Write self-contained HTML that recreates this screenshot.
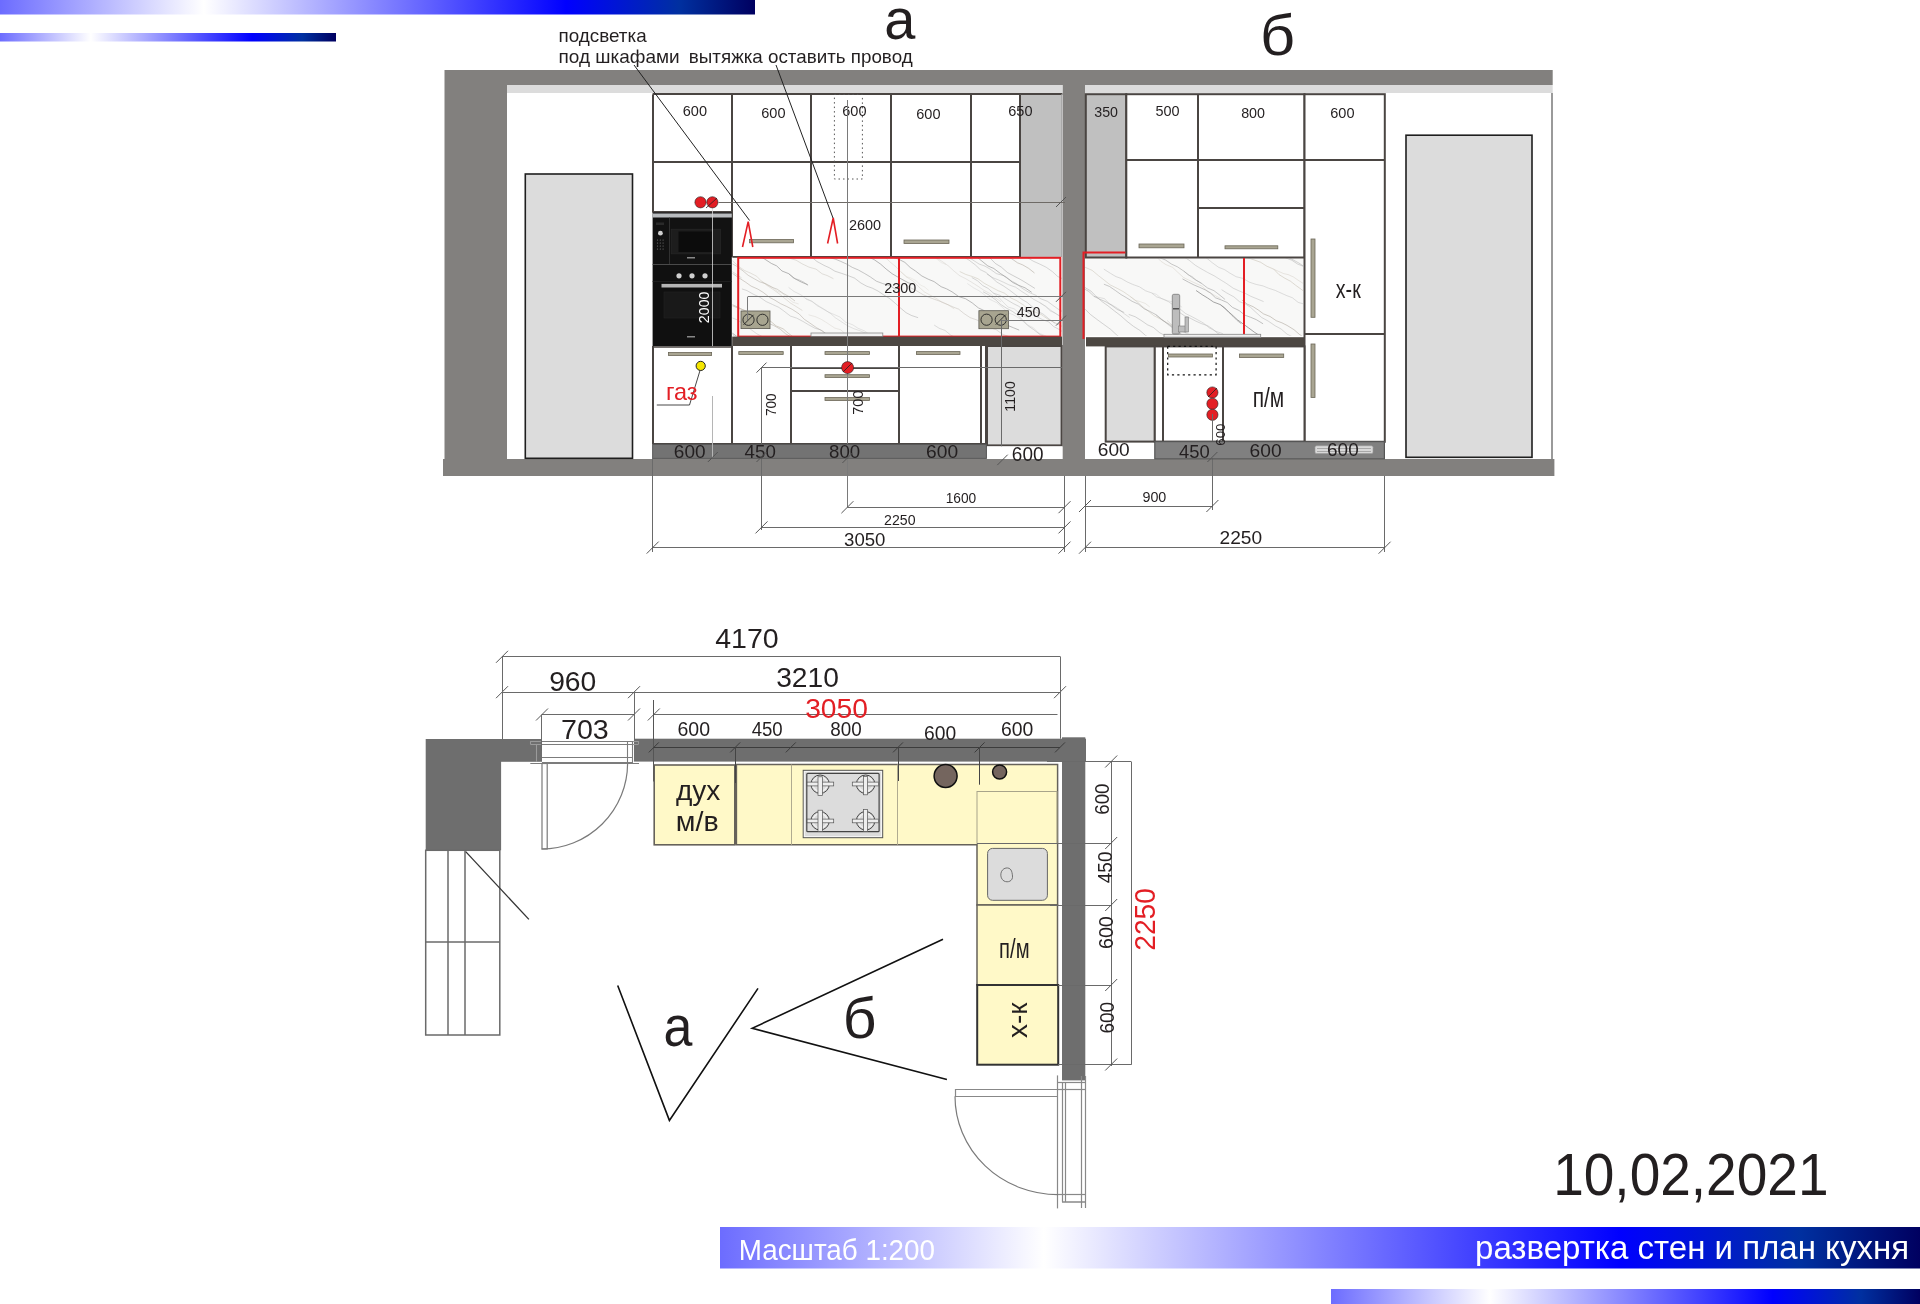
<!DOCTYPE html>
<html><head><meta charset="utf-8"><style>
html,body{margin:0;padding:0;background:#fff;width:1920px;height:1304px;overflow:hidden}
svg{position:absolute;left:0;top:0;font-family:"Liberation Sans",sans-serif;will-change:transform}
</style></head><body>
<svg width="1920" height="1304" viewBox="0 0 1920 1304">
<defs>
<linearGradient id="g" x1="0" y1="0" x2="1" y2="0">
<stop offset="0" stop-color="#6c6cff"/><stop offset="0.27" stop-color="#ffffff"/><stop offset="0.75" stop-color="#0000ff"/><stop offset="0.9" stop-color="#0030a0"/><stop offset="1" stop-color="#000060"/>
</linearGradient>
</defs>
<rect x="0.00" y="0.00" width="755.00" height="14.50" fill="url(#g)" stroke="none" stroke-width="1" />
<rect x="0.00" y="33.00" width="336.00" height="8.50" fill="url(#g)" stroke="none" stroke-width="1" />
<rect x="720.00" y="1227.00" width="1200.00" height="41.50" fill="url(#g)" stroke="none" stroke-width="1" />
<rect x="1331.00" y="1289.00" width="589.00" height="15.00" fill="url(#g)" stroke="none" stroke-width="1" />
<text x="738.78" y="1260.00" font-size="29" fill="#ffffff" textLength="196.23" lengthAdjust="spacingAndGlyphs">Масштаб 1:200</text>
<text x="1475.02" y="1259.00" font-size="34" fill="#ffffff" textLength="434.01" lengthAdjust="spacingAndGlyphs">развертка стен и план кухня</text>
<text x="1553.15" y="1194.80" font-size="59" fill="#231f20" textLength="275.39" lengthAdjust="spacingAndGlyphs">10,02,2021</text>
<rect x="444.50" y="70.00" width="62.50" height="406.00" fill="#82807e" stroke="none" stroke-width="1" />
<rect x="443.00" y="459.00" width="1111.40" height="17.00" fill="#82807e" stroke="none" stroke-width="1" />
<rect x="507.00" y="70.00" width="1045.70" height="15.00" fill="#82807e" stroke="none" stroke-width="1" />
<rect x="1062.50" y="70.00" width="22.50" height="406.00" fill="#82807e" stroke="none" stroke-width="1" />
<rect x="507.00" y="85.00" width="555.50" height="8.00" fill="#dcdcdc" stroke="none" stroke-width="1" />
<rect x="1085.00" y="85.00" width="467.70" height="8.00" fill="#dcdcdc" stroke="none" stroke-width="1" />
<line x1="1552.00" y1="93.00" x2="1552.00" y2="459.00" stroke="#9a9a9a" stroke-width="2" />
<rect x="525.30" y="174.00" width="107.20" height="284.30" fill="#dcdcdc" stroke="#1e1e1e" stroke-width="1.6" />
<rect x="1406.00" y="135.20" width="126.00" height="322.10" fill="#dcdcdc" stroke="#1e1e1e" stroke-width="1.6" />
<text x="884.16" y="39.00" font-size="58" fill="#231f20" textLength="31.12" lengthAdjust="spacingAndGlyphs">а</text>
<text x="1259.94" y="54.70" font-size="57" fill="#231f20" textLength="35.07" lengthAdjust="spacingAndGlyphs">б</text>
<text x="558.47" y="41.70" font-size="19" fill="#231f20" textLength="88.16" lengthAdjust="spacingAndGlyphs">подсветка</text>
<text x="558.46" y="62.50" font-size="19" fill="#231f20" textLength="121.24" lengthAdjust="spacingAndGlyphs">под шкафами</text>
<text x="688.87" y="62.50" font-size="19" fill="#231f20" textLength="223.78" lengthAdjust="spacingAndGlyphs">вытяжка оставить провод</text>
<rect x="652.60" y="94.40" width="367.80" height="162.60" fill="#ffffff" stroke="none" stroke-width="1" />
<line x1="653.00" y1="94.40" x2="653.00" y2="212.50" stroke="#4a4542" stroke-width="2" />
<line x1="732.00" y1="94.40" x2="732.00" y2="257.00" stroke="#4a4542" stroke-width="2" />
<line x1="811.00" y1="94.40" x2="811.00" y2="257.00" stroke="#4a4542" stroke-width="2" />
<line x1="891.00" y1="94.40" x2="891.00" y2="257.00" stroke="#4a4542" stroke-width="2" />
<line x1="971.00" y1="94.40" x2="971.00" y2="257.00" stroke="#4a4542" stroke-width="2" />
<line x1="1020.00" y1="94.40" x2="1020.00" y2="257.00" stroke="#4a4542" stroke-width="2" />
<line x1="652.60" y1="94.00" x2="1061.70" y2="94.00" stroke="#4a4542" stroke-width="2" />
<line x1="652.60" y1="162.00" x2="1020.40" y2="162.00" stroke="#4a4542" stroke-width="2" />
<line x1="652.60" y1="212.00" x2="732.40" y2="212.00" stroke="#4a4542" stroke-width="2" />
<line x1="732.40" y1="257.00" x2="1020.40" y2="257.00" stroke="#4a4542" stroke-width="2" />
<rect x="1020.40" y="94.40" width="41.90" height="162.60" fill="#c0c0c0" stroke="none" stroke-width="1" />
<line x1="1020.00" y1="94.40" x2="1020.00" y2="257.00" stroke="#4a4542" stroke-width="2" />
<line x1="1020.40" y1="94.00" x2="1062.30" y2="94.00" stroke="#4a4542" stroke-width="2" />
<line x1="1061.50" y1="94.40" x2="1061.50" y2="257.00" stroke="#a9a9a9" stroke-width="1" />
<rect x="834.40" y="94.40" width="28.00" height="84.60" fill="none" stroke="#555" stroke-width="1" stroke-dasharray="1.5,3"/>
<rect x="749.60" y="239.50" width="44.00" height="3.30" fill="#a9a592" stroke="#6b6757" stroke-width="0.8" />
<rect x="904.00" y="240.00" width="45.00" height="3.50" fill="#a9a592" stroke="#6b6757" stroke-width="0.8" />
<polyline points="742.50,247.00 748.20,221.60 752.80,247.00" fill="none" stroke="#e31e24" stroke-width="1.6" />
<polyline points="827.60,243.50 833.20,218.00 837.60,243.50" fill="none" stroke="#e31e24" stroke-width="1.6" />
<text x="682.77" y="116.00" font-size="14.5" fill="#231f20" textLength="24.25" lengthAdjust="spacingAndGlyphs">600</text>
<text x="761.27" y="118.00" font-size="14.5" fill="#231f20" textLength="24.25" lengthAdjust="spacingAndGlyphs">600</text>
<text x="842.27" y="116.00" font-size="14.5" fill="#231f20" textLength="24.25" lengthAdjust="spacingAndGlyphs">600</text>
<text x="916.27" y="119.00" font-size="14.5" fill="#231f20" textLength="24.25" lengthAdjust="spacingAndGlyphs">600</text>
<text x="1008.27" y="116.00" font-size="14.5" fill="#231f20" textLength="24.25" lengthAdjust="spacingAndGlyphs">650</text>
<text x="848.98" y="229.60" font-size="14.5" fill="#231f20" textLength="32.14" lengthAdjust="spacingAndGlyphs">2600</text>
<rect x="652.60" y="212.50" width="79.20" height="51.50" fill="#121212" stroke="none" stroke-width="1" />
<rect x="652.60" y="213.50" width="79.20" height="4.00" fill="#b9bcbf" stroke="none" stroke-width="1" />
<line x1="669.50" y1="217.50" x2="669.50" y2="264.00" stroke="#3a3a3a" stroke-width="0.8" />
<rect x="671.30" y="229.30" width="49.10" height="24.50" fill="#1d1d1d" stroke="#262626" stroke-width="0.8" />
<rect x="678.50" y="231.50" width="34.50" height="20.50" fill="#0c0c0c" stroke="none" stroke-width="1" />
<circle cx="660.40" cy="233.20" r="2.40" fill="#d0d0d0" stroke="none" stroke-width="1"/>
<rect x="656.00" y="222.50" width="8.00" height="2.50" fill="#2a2a2a" stroke="none" stroke-width="1" />
<circle cx="657.50" cy="240.00" r="0.60" fill="#777" stroke="none" stroke-width="1"/>
<circle cx="660.30" cy="240.00" r="0.60" fill="#777" stroke="none" stroke-width="1"/>
<circle cx="663.10" cy="240.00" r="0.60" fill="#777" stroke="none" stroke-width="1"/>
<circle cx="657.50" cy="243.00" r="0.60" fill="#777" stroke="none" stroke-width="1"/>
<circle cx="660.30" cy="243.00" r="0.60" fill="#777" stroke="none" stroke-width="1"/>
<circle cx="663.10" cy="243.00" r="0.60" fill="#777" stroke="none" stroke-width="1"/>
<circle cx="657.50" cy="246.00" r="0.60" fill="#777" stroke="none" stroke-width="1"/>
<circle cx="660.30" cy="246.00" r="0.60" fill="#777" stroke="none" stroke-width="1"/>
<circle cx="663.10" cy="246.00" r="0.60" fill="#777" stroke="none" stroke-width="1"/>
<circle cx="657.50" cy="249.00" r="0.60" fill="#777" stroke="none" stroke-width="1"/>
<circle cx="660.30" cy="249.00" r="0.60" fill="#777" stroke="none" stroke-width="1"/>
<circle cx="663.10" cy="249.00" r="0.60" fill="#777" stroke="none" stroke-width="1"/>
<rect x="652.60" y="264.00" width="79.20" height="82.40" fill="#101010" stroke="none" stroke-width="1" />
<line x1="652.60" y1="264.50" x2="731.80" y2="264.50" stroke="#4a4a4a" stroke-width="1.2" />
<line x1="652.60" y1="281.50" x2="731.80" y2="281.50" stroke="#222" stroke-width="0.8" />
<circle cx="679.00" cy="275.80" r="2.60" fill="#cfcfcf" stroke="none" stroke-width="1"/>
<circle cx="692.00" cy="275.80" r="2.60" fill="#cfcfcf" stroke="none" stroke-width="1"/>
<circle cx="705.00" cy="275.80" r="2.60" fill="#cfcfcf" stroke="none" stroke-width="1"/>
<rect x="661.50" y="283.90" width="60.50" height="3.60" fill="#b5b5b5" stroke="none" stroke-width="1" />
<rect x="664.00" y="292.00" width="56.00" height="26.00" fill="#191919" stroke="#222" stroke-width="0.6" />
<rect x="687.00" y="336.00" width="8.00" height="1.50" fill="#888" stroke="none" stroke-width="1" />
<rect x="687.00" y="257.00" width="8.00" height="1.50" fill="#888" stroke="none" stroke-width="1" />
<line x1="712.50" y1="205.00" x2="712.50" y2="346.00" stroke="#d8d8d8" stroke-width="0.8" />
<line x1="709.00" y1="461.00" x2="717.00" y2="453.00" stroke="#555" stroke-width="1" />
<text x="0" y="0" transform="translate(709.20,323.21) rotate(-90)" font-size="15.5" fill="#ffffff" textLength="31.73" lengthAdjust="spacingAndGlyphs">2000</text>
<circle cx="700.50" cy="202.30" r="5.60" fill="#e31e24" stroke="#222" stroke-width="0.6"/>
<circle cx="712.40" cy="202.30" r="5.60" fill="#e31e24" stroke="#222" stroke-width="0.6"/>
<line x1="706.00" y1="208.00" x2="717.00" y2="198.00" stroke="#222" stroke-width="0.8" />
<line x1="718.50" y1="202.50" x2="1065.00" y2="202.50" stroke="#6e6a66" stroke-width="1" />
<line x1="1056.00" y1="207.00" x2="1066.00" y2="197.00" stroke="#555" stroke-width="1" />
<line x1="634.00" y1="65.00" x2="749.60" y2="220.50" stroke="#222" stroke-width="1" />
<line x1="776.00" y1="65.00" x2="833.00" y2="218.00" stroke="#222" stroke-width="1" />
<rect x="732.40" y="257.80" width="329.60" height="78.80" fill="#f8f8f7" stroke="none" stroke-width="1" />
<clipPath id="cpa"><rect x="732.4" y="257.8" width="329.6" height="78.8"/></clipPath><g clip-path="url(#cpa)">
<polyline points="748.0,217.3 754.1,220.0 759.2,223.1 764.3,226.0 769.4,227.7 775.3,231.9 780.5,234.1 786.8,238.6 792.9,241.3 799.9,243.0 806.6,245.4 811.9,247.3 817.5,251.4 822.9,254.7 829.1,257.4 835.2,259.1 840.3,261.2 846.7,264.1 852.3,267.4 858.2,269.9 864.8,273.6 870.3,276.9 876.4,281.2 882.8,283.6 889.8,285.5 895.6,289.4" fill="none" stroke="#a8a8a8" stroke-width="0.87" opacity="0.74"/>
<polyline points="644.6,269.4 650.3,272.9 656.3,277.9 661.4,280.5 667.0,285.2 672.1,289.9 677.7,294.1 684.1,297.9 690.5,303.1 696.2,308.5 701.9,312.9 707.9,316.0 713.5,320.7 719.3,326.0 725.3,328.9 731.1,332.2 736.3,336.0 742.4,340.6 749.4,345.2 755.2,348.3 760.3,351.2 766.6,353.6 773.3,356.5 778.9,359.4 784.9,363.7 790.6,366.5 797.3,371.9 803.6,376.7 809.5,381.8" fill="none" stroke="#8e8e8e" stroke-width="0.76" opacity="0.80"/>
<polyline points="725.3,328.9 730.2,331.5 734.6,336.5 739.5,337.9" fill="none" stroke="#8e8e8e" stroke-width="0.61" opacity="0.64"/>
<polyline points="864.3,211.1 871.2,215.1 876.3,217.8 882.1,221.9 889.0,225.9 895.0,228.3 900.9,233.5 906.9,236.5 912.2,240.9 918.7,244.5 925.0,248.2 930.5,253.3 936.2,257.6 943.0,262.0 948.6,266.1 953.8,270.9 959.8,275.8 965.5,278.6 971.6,282.2 977.9,286.2 984.5,290.7 989.9,293.5 995.7,298.1 1001.1,301.8" fill="none" stroke="#b0aaa0" stroke-width="0.46" opacity="0.56"/>
<polyline points="925.0,248.2 930.4,253.0 935.3,257.8 941.3,262.6 946.0,264.5" fill="none" stroke="#b0aaa0" stroke-width="0.37" opacity="0.45"/>
<polyline points="707.3,223.2 714.1,228.0 720.0,232.3 726.6,234.7 733.0,239.7 739.5,244.3 745.5,247.0 752.1,250.2 758.7,255.5 764.4,258.9 771.3,263.4 776.7,265.9 782.0,271.0 788.6,273.6 795.2,278.9 801.6,282.2 807.7,284.7" fill="none" stroke="#9a9a9a" stroke-width="0.81" opacity="0.88"/>
<polyline points="788.6,273.6 793.5,278.1 799.1,279.9 803.6,282.1 808.1,285.4" fill="none" stroke="#9a9a9a" stroke-width="0.65" opacity="0.70"/>
<polyline points="720.9,251.6 726.6,255.6 732.8,261.0 738.6,266.4 744.7,270.6 750.7,273.2 756.6,276.2 761.6,281.3 766.9,285.3 773.4,289.6 779.0,293.7 785.1,298.7 790.4,303.0 795.9,306.4 802.4,310.5" fill="none" stroke="#c6bfb2" stroke-width="0.46" opacity="0.95"/>
<polyline points="761.6,281.3 767.5,284.7 771.9,286.8 776.9,291.0 782.0,293.0 787.0,297.5 792.9,302.2 798.7,304.0" fill="none" stroke="#c6bfb2" stroke-width="0.37" opacity="0.76"/>
<polyline points="800.0,251.3 806.3,254.5 811.7,257.2 817.0,261.5 823.9,265.3 829.6,267.9 834.9,271.2 841.4,273.3 848.1,275.6 854.5,278.1 860.9,283.0 866.7,286.2 872.4,288.2 878.1,291.1 884.0,295.1 889.8,298.6 895.4,303.4 900.6,308.1 906.1,312.7 911.3,315.4 918.1,317.7" fill="none" stroke="#8e8e8e" stroke-width="0.51" opacity="0.74"/>
<polyline points="956.0,231.1 962.1,235.8 967.3,238.5 973.7,242.4 978.8,247.9 985.1,253.0 990.2,258.2 995.4,263.5 1001.3,267.1 1007.4,272.5 1012.9,275.5 1019.0,278.7 1024.2,281.7 1029.3,284.9 1034.9,288.4" fill="none" stroke="#8e8e8e" stroke-width="0.54" opacity="0.75"/>
<polyline points="725.6,300.9 730.7,303.9 737.6,307.0 743.1,309.9 749.4,313.4 755.7,316.6 762.5,321.2 768.1,323.3 773.6,325.4 780.3,329.2 785.6,333.8 792.6,337.9 797.6,341.3 804.4,344.2 809.5,347.7 815.3,350.8 822.2,354.2 828.6,355.7 834.0,358.0 839.0,360.7 844.6,365.3 850.3,366.8 857.0,368.9 862.4,371.5 867.6,373.8 873.9,376.0 880.4,377.8 887.1,379.7 893.2,382.4 898.8,385.8 904.0,390.4 910.7,392.3 917.5,396.2 923.7,400.1" fill="none" stroke="#b0aaa0" stroke-width="0.89" opacity="0.62"/>
<polyline points="882.2,203.6 888.4,208.4 895.0,211.3 901.1,215.4 907.7,220.5 914.4,224.8 921.2,229.5 927.6,232.7 932.6,235.6 938.4,238.4 945.0,242.6 951.3,247.1 957.6,251.1 962.7,256.2 969.1,260.2 975.2,264.8 980.4,269.7 985.9,272.4 991.4,277.2 996.8,282.0 1003.7,286.1 1009.5,290.1 1015.9,295.0 1022.1,299.5 1027.3,302.5 1032.8,307.3 1038.4,311.6 1043.4,314.3 1048.9,318.9 1055.3,323.5" fill="none" stroke="#b5b5b5" stroke-width="0.77" opacity="0.68"/>
<polyline points="934.2,325.1 939.4,328.4 945.0,330.4 951.0,335.4 958.0,338.4 964.8,343.2 969.9,345.2 976.4,347.8 982.2,351.5 988.4,354.2 993.6,357.2 999.6,361.7 1005.4,364.0 1012.3,368.0 1018.1,372.1 1024.0,375.1 1029.2,377.9 1034.9,380.7 1040.7,385.5 1046.1,387.3 1052.5,389.9 1057.7,392.9 1064.4,395.0 1071.3,399.2" fill="none" stroke="#8e8e8e" stroke-width="0.47" opacity="0.60"/>
<polyline points="732.0,317.8 738.0,320.1 743.7,324.9 750.5,329.2 756.8,333.8 763.6,337.3 770.1,339.2 776.5,342.3 783.1,346.1 788.6,348.0 795.5,350.1 801.4,352.9 807.0,357.0 814.0,359.6 820.3,362.3 826.4,365.2 831.7,367.5 837.1,372.1" fill="none" stroke="#c2c2c2" stroke-width="0.70" opacity="0.75"/>
<polyline points="820.3,362.3 825.1,365.4 829.6,367.1 834.7,369.4 839.5,373.7 843.9,374.7 849.6,377.3" fill="none" stroke="#c2c2c2" stroke-width="0.56" opacity="0.60"/>
<polyline points="925.3,224.9 931.2,229.0 937.0,233.5 943.0,238.4 949.7,241.0 956.5,244.5 962.8,248.2 968.4,253.1 975.4,255.8 981.2,260.5 987.8,265.9 993.8,268.5 1000.7,273.7 1006.7,277.5 1012.6,282.4 1018.1,285.1 1025.0,287.8 1031.7,292.3" fill="none" stroke="#8e8e8e" stroke-width="0.79" opacity="0.76"/>
<polyline points="628.6,298.1 634.9,301.6 640.2,304.9 646.4,309.7 651.7,312.4 657.7,316.8 663.5,320.0 669.7,322.5 675.3,326.5 682.2,331.1 689.0,335.1 694.4,338.4 701.4,343.1 707.0,345.7 713.0,350.4 718.8,353.7 725.1,359.2" fill="none" stroke="#a8a8a8" stroke-width="0.67" opacity="0.86"/>
<polyline points="764.2,248.7 770.9,250.7 776.9,253.1 783.4,255.5 789.3,258.1 796.1,260.2 802.3,263.9 809.1,267.2 816.0,269.1 822.1,273.8 827.3,275.6 833.4,278.7" fill="none" stroke="#b0aaa0" stroke-width="0.48" opacity="0.73"/>
<polyline points="983.1,291.8 988.8,294.9 995.6,299.8 1000.7,304.5 1006.5,308.2 1012.1,311.2 1017.1,314.6 1022.8,320.2 1028.1,325.8 1033.5,329.5 1040.1,334.6 1046.0,337.3 1051.9,341.0 1058.8,344.1 1064.5,349.5 1069.6,353.4 1076.2,358.3 1081.3,361.0 1086.4,366.4 1091.9,371.3 1098.7,374.9 1104.3,380.5 1110.5,383.9 1116.9,387.4 1122.5,389.9 1129.0,395.4 1135.3,400.9 1140.3,404.2 1146.3,409.8 1153.2,413.5 1158.7,417.4 1164.7,422.9 1170.0,428.0 1176.5,433.1" fill="none" stroke="#8e8e8e" stroke-width="0.52" opacity="0.66"/>
<polyline points="805.5,298.3 811.3,300.9 817.1,304.9 823.1,308.7 828.4,312.1 833.6,314.3 839.9,317.0 845.7,322.2 852.7,324.8 857.9,328.2 864.7,331.0 870.8,335.5 877.3,340.0 882.9,342.9 888.4,345.7 893.9,349.2 899.3,351.9 904.9,356.9 910.3,359.1 915.8,361.9 921.8,366.0 927.0,369.5 932.1,371.5 938.9,374.3 944.8,377.5" fill="none" stroke="#b5b5b5" stroke-width="0.55" opacity="0.57"/>
<polyline points="959.7,222.9 965.1,226.8 971.6,230.9 976.6,235.0 983.1,238.1 988.1,241.2 993.2,246.4 998.3,250.8 1005.1,255.4 1011.8,258.8 1017.5,262.8 1022.7,264.9 1028.7,268.4 1034.5,273.0" fill="none" stroke="#b0aaa0" stroke-width="0.70" opacity="0.84"/>
<polyline points="983.1,238.1 988.5,240.8 993.0,243.0 998.9,245.2 1004.1,247.7 1008.9,252.1 1014.9,254.6" fill="none" stroke="#b0aaa0" stroke-width="0.56" opacity="0.67"/>
<polyline points="694.8,291.2 701.6,294.0 708.3,296.7 715.0,299.5 720.4,301.0 726.5,304.5 733.3,306.1 739.5,308.7 745.5,310.6 751.1,313.7 758.0,315.4 763.9,319.4 770.9,321.5 776.1,325.9 783.1,328.8 788.2,333.2 794.0,337.5" fill="none" stroke="#c6bfb2" stroke-width="0.76" opacity="0.95"/>
<polyline points="971.8,277.5 977.7,280.9 982.8,285.6 988.1,288.4 993.4,293.1 1000.0,295.4 1006.8,299.7 1013.2,303.5 1018.8,306.3 1024.7,310.7 1031.3,314.4 1036.9,316.8 1042.7,319.7 1048.7,321.9 1053.7,326.6 1059.6,329.7 1065.8,334.0 1072.5,338.2 1078.3,340.1 1084.0,342.9 1090.6,346.1 1097.0,347.9 1102.2,352.5 1107.8,356.4 1113.0,360.4" fill="none" stroke="#c2c2c2" stroke-width="0.74" opacity="0.90"/>
<polyline points="993.4,293.1 998.9,297.4 1003.3,302.3 1008.2,307.1 1014.1,308.8 1019.7,313.5 1023.8,315.9 1029.3,317.5" fill="none" stroke="#c2c2c2" stroke-width="0.59" opacity="0.72"/>
<polyline points="988.5,233.2 994.6,237.7 1000.0,240.1 1006.0,242.7 1011.1,244.9 1016.4,249.4 1022.7,253.9 1028.1,258.0 1033.3,261.2 1039.6,264.0 1046.3,267.3 1052.5,271.7 1057.7,276.5 1063.9,279.3 1070.5,281.7 1077.5,285.1 1083.2,289.1 1089.1,291.3 1095.6,293.0 1102.3,295.4 1108.5,300.1 1114.7,303.8 1120.3,305.4 1125.4,307.4 1131.6,310.4 1137.7,314.8 1142.9,317.1 1149.2,318.8 1154.2,321.5 1159.4,324.2" fill="none" stroke="#a8a8a8" stroke-width="0.64" opacity="0.69"/>
<polyline points="1063.9,279.3 1069.6,280.9 1073.6,285.1 1079.0,287.9 1083.2,289.5 1088.5,291.6 1094.1,296.5 1098.2,300.7" fill="none" stroke="#a8a8a8" stroke-width="0.51" opacity="0.55"/>
<polyline points="986.9,274.1 993.0,277.8 998.3,279.9 1003.4,282.2 1008.8,284.8 1015.6,287.2 1021.8,291.5 1027.2,294.9 1033.3,299.1 1039.6,302.5 1045.8,306.3 1050.9,310.4 1057.9,314.9 1063.9,318.7 1069.6,322.2 1076.4,324.6 1082.7,327.3 1089.7,330.2 1096.0,332.8 1102.8,337.8 1109.7,340.8 1114.8,345.0 1121.2,349.3 1128.0,354.5 1133.6,359.6" fill="none" stroke="#a8a8a8" stroke-width="0.49" opacity="0.78"/>
<polyline points="1039.6,302.5 1045.4,306.5 1050.1,311.0 1054.8,313.0 1060.6,316.5" fill="none" stroke="#a8a8a8" stroke-width="0.39" opacity="0.62"/>
<polyline points="903.0,283.2 909.7,287.3 916.4,290.7 922.8,294.5 928.5,297.1 934.7,299.4 941.5,301.8 946.6,304.1 953.4,307.1 958.7,309.2 963.8,313.4 970.1,317.6 976.5,319.8 982.7,322.9 989.4,327.5 996.1,329.6 1002.9,334.5 1009.8,336.8 1015.2,339.2 1020.2,343.8 1026.9,347.8 1033.5,351.8 1039.1,354.1 1044.3,358.5 1049.7,361.5 1055.5,363.5 1061.1,366.4 1067.5,369.5 1073.1,374.6 1079.1,379.2 1085.4,381.3 1091.2,384.7 1097.7,387.7" fill="none" stroke="#b0aaa0" stroke-width="0.47" opacity="0.80"/>
<polyline points="959.7,271.5 965.7,274.4 972.2,276.5 977.9,278.7 984.3,283.3 991.3,287.1 998.2,290.7 1004.3,293.1 1011.0,298.0 1016.4,300.5 1023.3,304.9 1029.3,310.0 1035.4,312.2 1041.1,314.4 1047.9,319.2 1054.4,322.5 1060.7,325.6 1066.3,328.9" fill="none" stroke="#c6bfb2" stroke-width="0.68" opacity="0.72"/>
<polyline points="710.1,257.0 716.6,261.4 722.3,264.7 727.6,269.7 733.9,274.4 739.3,278.1 745.8,282.3 751.1,286.1 757.8,289.1 763.2,292.4 769.6,297.4 774.9,300.2 780.4,303.6 786.5,306.4 792.1,309.3 799.1,313.9 804.3,319.3 809.5,322.8 816.5,327.7 822.9,331.4 828.3,335.7 833.5,338.7 839.3,341.1 845.1,346.0" fill="none" stroke="#b0aaa0" stroke-width="0.55" opacity="0.99"/>
<polyline points="722.3,264.7 726.8,268.7 730.8,270.6 736.5,274.4 741.7,278.0" fill="none" stroke="#b0aaa0" stroke-width="0.44" opacity="0.79"/>
<polyline points="967.3,283.5 973.6,287.8 979.1,290.8 984.3,294.7 989.8,299.4 996.6,302.6 1002.4,307.3 1007.7,312.5 1013.7,315.0 1020.4,319.1 1026.7,324.4 1033.5,327.9 1038.5,333.0 1045.4,335.8 1050.9,338.9 1057.3,344.4 1062.7,348.0 1069.4,351.9 1074.8,355.9 1079.8,360.9 1085.6,364.4 1092.1,368.4 1099.0,371.4 1105.1,376.8 1111.5,381.3 1117.8,384.5" fill="none" stroke="#c2c2c2" stroke-width="0.63" opacity="0.56"/>
<polyline points="788.6,287.4 794.1,291.5 801.0,294.9 806.4,299.2 812.2,301.6 817.4,305.8 824.1,309.5 830.0,313.0 835.4,317.8 841.2,321.6 847.8,325.9 853.7,328.6 859.8,330.7 866.5,333.5 873.2,336.1 878.9,338.7 884.8,341.0 889.8,345.0 895.4,347.5 901.0,350.7" fill="none" stroke="#c2c2c2" stroke-width="0.73" opacity="0.59"/>
<polyline points="676.2,236.8 682.3,239.3 689.2,242.5 694.9,245.9 701.2,248.1 706.3,250.5 712.5,253.9 719.2,256.0 725.1,260.0 730.6,262.8 736.6,266.2 743.0,270.9 748.2,275.3 754.3,278.8 759.9,281.9 765.3,283.6 772.0,287.3 777.2,289.2 783.1,293.3 789.0,296.6 795.0,301.0" fill="none" stroke="#b0aaa0" stroke-width="0.67" opacity="0.77"/>
<polyline points="974.4,198.8 980.5,202.9 987.2,206.1 993.1,211.1 998.2,215.1 1004.5,217.2 1010.7,221.3 1017.6,224.4 1024.5,227.9 1030.5,232.8 1035.6,237.0 1041.8,240.1 1048.5,243.2 1054.5,246.9 1061.0,249.5 1066.9,252.8 1073.0,257.4 1078.6,262.0 1084.4,265.6 1089.9,269.2 1096.9,273.2 1103.5,276.3 1109.1,279.2 1115.3,283.2 1121.8,285.3 1128.3,290.1 1134.4,292.2 1140.0,294.2 1145.4,299.1 1151.6,303.1" fill="none" stroke="#8e8e8e" stroke-width="0.68" opacity="0.79"/>
<polyline points="1010.7,221.3 1016.4,222.7 1020.5,226.2 1025.8,227.9 1031.1,232.4 1035.9,233.8 1041.8,234.8 1047.6,236.4" fill="none" stroke="#8e8e8e" stroke-width="0.54" opacity="0.64"/>
<polyline points="741.9,288.9 747.0,290.6 753.1,294.1 760.0,297.3 766.0,301.5 772.5,304.5 778.9,307.4 784.1,311.2 790.3,316.0 796.6,318.1 803.1,321.5 808.3,324.6 815.1,328.3 820.9,329.9 827.3,334.7 834.0,337.0 839.2,340.2 844.8,343.6 850.7,347.6 857.5,350.4 864.0,354.2 869.3,358.3 874.9,361.7 880.9,365.5 887.7,370.0 892.8,371.7 897.9,376.2 904.3,379.8 910.1,382.4 916.3,387.1 922.9,390.7" fill="none" stroke="#b5b5b5" stroke-width="0.62" opacity="0.81"/>
<polyline points="896.3,216.5 902.6,220.4 908.4,223.5 915.0,228.3 921.6,232.0 927.1,234.0 934.1,238.1 940.7,241.0 947.0,246.0 953.6,249.7 959.2,252.9 966.0,256.0 972.4,259.7 979.2,264.1 984.7,266.0 990.3,269.2 996.4,273.6 1003.2,275.6 1009.9,280.0 1016.6,283.7 1022.2,288.3 1028.8,292.3 1035.6,295.2 1040.8,298.8 1047.4,301.3 1053.9,306.1 1059.3,309.9 1065.7,313.2 1071.1,315.9" fill="none" stroke="#8e8e8e" stroke-width="0.45" opacity="0.72"/>
<polyline points="837.2,243.5 843.2,246.2 849.9,249.1 855.9,251.6 861.3,253.8 867.9,256.6 874.1,259.6 880.7,264.2 886.1,269.0 892.1,273.7 897.9,277.1 903.0,279.9 908.1,282.7 914.3,284.9" fill="none" stroke="#a8a8a8" stroke-width="0.90" opacity="0.94"/>
<polyline points="850.2,231.5 857.1,235.9 863.7,240.8 869.3,242.9 874.7,245.4 879.8,247.4 885.9,252.1 891.9,257.1 898.7,259.2 904.9,262.4 910.1,267.4 915.6,271.1 921.9,276.0 928.2,279.2 934.1,281.6 941.1,286.7 946.5,288.8 952.0,291.8 958.8,296.6 965.5,298.7 972.1,302.8 978.4,307.9 983.5,310.3 990.0,315.2 996.4,318.1 1002.5,322.4 1007.7,325.4 1013.3,327.7 1019.2,330.1" fill="none" stroke="#a8a8a8" stroke-width="0.81" opacity="0.96"/>
<polyline points="808.5,314.8 815.2,316.6 821.4,319.4 827.9,323.5 834.8,328.1 840.6,329.7 845.8,334.4 851.4,336.8 856.6,339.5 862.3,343.5 867.7,346.5 874.4,349.5 879.7,352.4 885.2,354.1 891.4,356.6 898.0,359.0 903.2,362.1 909.2,364.2 915.2,367.8 921.8,372.3 927.9,376.6 933.1,380.6 940.1,383.6 945.6,385.9 951.1,388.7 956.9,390.9 963.6,395.6 968.8,399.2 974.7,402.4" fill="none" stroke="#c6bfb2" stroke-width="0.51" opacity="0.55"/>
<polyline points="833.2,221.8 838.6,226.1 843.9,229.2 850.4,234.0 855.8,236.7 861.0,241.1 867.0,244.5 872.4,249.0 878.8,254.1 885.0,257.2 890.1,262.0 895.9,266.8 901.0,271.9 906.7,277.1 913.4,281.2 918.5,286.6 924.4,291.9 929.9,295.0 936.6,298.6 941.9,302.3 948.1,304.8 954.2,308.8" fill="none" stroke="#c6bfb2" stroke-width="0.48" opacity="0.71"/>
<polyline points="901.0,271.9 906.2,276.5 910.8,278.0 916.2,280.7 920.3,285.0 924.5,286.9 928.7,290.4" fill="none" stroke="#c6bfb2" stroke-width="0.39" opacity="0.57"/>
</g>
<rect x="1085.00" y="258.40" width="218.50" height="77.30" fill="#f8f8f7" stroke="none" stroke-width="1" />
<clipPath id="cpb"><rect x="1085" y="258.4" width="218" height="77.3"/></clipPath><g clip-path="url(#cpb)">
<polyline points="1044.8,285.7 1050.1,288.9 1055.4,292.0 1061.9,294.8 1068.0,297.9 1073.6,301.7 1080.2,306.1 1085.3,309.4 1090.6,314.6 1097.2,319.6 1103.8,324.4 1110.7,329.4 1116.2,334.5 1122.2,339.4 1128.3,343.2 1134.1,346.9 1139.7,349.7 1146.3,354.7 1153.3,359.3 1159.4,364.2 1164.7,368.7 1170.6,371.7 1176.0,375.8 1181.5,379.7 1187.7,383.4 1193.0,387.4 1198.4,390.6" fill="none" stroke="#a8a8a8" stroke-width="0.77" opacity="0.61"/>
<polyline points="1158.8,257.3 1165.5,260.0 1171.5,264.1 1177.4,266.8 1183.8,271.1 1189.3,275.4 1195.0,279.6 1201.3,283.2 1207.6,288.0 1214.0,290.7 1220.0,295.3 1225.1,299.5" fill="none" stroke="#9a9a9a" stroke-width="0.61" opacity="0.88"/>
<polyline points="1183.8,271.1 1188.2,274.8 1192.4,276.7 1196.5,280.3 1201.7,283.5" fill="none" stroke="#9a9a9a" stroke-width="0.49" opacity="0.70"/>
<polyline points="977.0,254.3 982.0,259.0 987.2,261.4 992.7,264.9 997.9,267.9 1003.6,272.1 1008.6,274.6 1014.6,279.3 1020.7,282.3 1027.0,284.8 1032.1,287.9 1038.9,291.7 1044.4,295.4 1051.1,297.8 1057.3,300.4 1062.8,302.9 1068.2,305.5 1073.3,308.3 1078.4,312.2 1084.6,313.7" fill="none" stroke="#8e8e8e" stroke-width="0.59" opacity="0.75"/>
<polyline points="1085.0,205.8 1090.3,208.6 1096.1,211.6 1101.7,216.1 1107.3,219.7 1112.5,223.8 1118.6,228.2 1124.5,231.9 1130.1,237.5 1135.2,240.6 1142.0,245.5 1148.8,250.9 1155.6,255.7 1160.8,261.2 1165.9,264.6 1172.5,267.3 1178.0,272.5 1183.5,277.5 1190.0,280.7 1195.8,283.4 1201.9,286.1 1208.1,291.7 1214.7,295.4 1220.4,298.4" fill="none" stroke="#c6bfb2" stroke-width="0.58" opacity="0.59"/>
<polyline points="1096.1,211.6 1101.5,213.0 1106.9,217.5 1112.9,221.7 1117.8,225.2" fill="none" stroke="#c6bfb2" stroke-width="0.47" opacity="0.47"/>
<polyline points="1221.6,289.7 1226.8,293.0 1233.8,296.8 1239.4,301.6 1245.3,303.9 1250.3,307.1 1256.0,312.4 1261.5,317.4 1268.2,321.1 1275.2,325.8 1281.1,329.0 1287.1,334.2 1293.1,337.1 1298.9,340.9 1304.3,345.1 1309.3,350.0 1314.7,352.7 1320.9,356.0" fill="none" stroke="#c2c2c2" stroke-width="0.71" opacity="0.88"/>
<polyline points="1298.9,340.9 1302.9,344.1 1308.5,347.8 1313.1,351.3 1318.4,355.2 1323.2,359.2 1327.7,360.3" fill="none" stroke="#c2c2c2" stroke-width="0.57" opacity="0.70"/>
<polyline points="993.9,238.5 1000.7,243.5 1007.0,247.5 1013.1,252.8 1018.5,256.5 1023.6,259.8 1028.9,263.3 1034.6,265.8 1040.3,268.7 1045.8,271.0 1052.3,273.5 1057.6,275.9 1063.7,278.5 1070.2,280.7 1076.1,283.9 1082.3,287.8 1088.9,291.5 1094.0,296.4 1100.1,299.3 1105.8,301.8 1111.2,305.0 1117.4,309.5 1124.2,312.5" fill="none" stroke="#8e8e8e" stroke-width="0.46" opacity="0.87"/>
<polyline points="1094.0,296.4 1099.8,297.6 1104.3,298.6 1109.4,303.6 1115.0,306.7 1119.9,309.9 1123.9,313.5 1129.7,317.5" fill="none" stroke="#8e8e8e" stroke-width="0.37" opacity="0.70"/>
<polyline points="1167.1,320.4 1172.7,325.7 1178.0,328.4 1183.1,332.0 1190.1,334.7 1196.6,338.2 1201.8,341.9 1207.8,344.4 1213.5,346.7 1220.2,351.4 1226.7,353.8 1233.2,356.9 1238.8,359.9 1245.4,364.4 1251.3,367.4 1257.7,370.3 1264.4,372.7 1269.5,375.2 1276.0,377.8 1283.0,382.0 1288.2,385.7 1294.4,388.0 1301.2,391.9 1306.5,395.6" fill="none" stroke="#c2c2c2" stroke-width="0.60" opacity="0.71"/>
<polyline points="1269.5,375.2 1274.9,379.3 1280.6,381.4 1284.7,386.0" fill="none" stroke="#c2c2c2" stroke-width="0.48" opacity="0.57"/>
<polyline points="1182.5,278.9 1188.4,282.1 1194.1,285.0 1199.8,287.4 1205.1,289.8 1210.4,292.9 1215.5,297.8 1221.4,300.0 1227.2,302.5 1232.5,307.4 1239.1,310.5 1244.9,315.2 1250.7,317.3 1256.2,319.6 1263.1,323.8" fill="none" stroke="#9a9a9a" stroke-width="0.80" opacity="0.75"/>
<polyline points="1196.1,290.5 1202.2,294.7 1207.6,298.0 1213.5,302.0 1220.3,304.6 1226.0,309.5 1231.9,314.7 1237.2,319.6 1243.1,323.9 1248.2,327.6 1254.8,332.5 1260.9,336.3 1266.0,341.0 1271.9,345.8 1278.1,349.5 1284.9,352.4 1291.8,355.2 1298.7,359.5 1304.6,365.0 1310.6,369.1 1315.7,374.1 1322.0,377.3 1327.3,381.1 1334.1,386.4 1340.1,389.0 1346.7,392.1 1353.2,396.2 1360.1,399.1" fill="none" stroke="#8e8e8e" stroke-width="0.82" opacity="0.99"/>
<polyline points="1220.3,304.6 1224.6,307.5 1229.0,312.5 1233.0,316.4 1237.1,320.5 1241.3,323.9" fill="none" stroke="#8e8e8e" stroke-width="0.66" opacity="0.79"/>
<polyline points="1084.4,287.2 1090.9,291.0 1096.3,296.7 1102.2,301.7 1107.8,305.7 1114.0,310.6 1120.8,315.8 1127.0,321.3 1133.4,326.3 1139.8,330.4 1145.6,335.5 1151.4,339.4 1158.0,342.8 1164.5,345.3 1171.1,349.3 1177.5,354.3" fill="none" stroke="#a8a8a8" stroke-width="0.57" opacity="0.87"/>
<polyline points="1032.0,233.3 1038.2,235.6 1044.8,239.9 1050.6,243.0 1056.5,247.6 1062.1,250.4 1068.8,254.2 1074.0,259.4 1079.2,262.9 1085.4,267.4 1092.2,270.4 1098.4,275.6 1104.3,280.2 1110.2,284.9 1117.1,288.3 1123.6,291.8 1130.4,296.6 1137.1,301.8 1143.3,307.2 1148.6,311.4 1153.8,315.6 1160.1,318.9 1166.8,322.6 1172.2,325.6" fill="none" stroke="#c6bfb2" stroke-width="0.69" opacity="0.69"/>
<polyline points="1130.4,296.6 1135.3,300.3 1140.2,301.6 1145.4,303.5 1149.7,306.9" fill="none" stroke="#c6bfb2" stroke-width="0.55" opacity="0.55"/>
<polyline points="1173.1,199.4 1178.4,201.8 1185.0,205.6 1191.5,208.4 1198.3,210.3 1205.2,211.9 1210.6,215.7 1217.1,219.3 1222.6,223.5 1228.6,225.6 1233.8,230.2 1238.9,232.3 1244.6,236.6 1251.3,240.7 1257.6,242.2 1264.0,244.2 1270.9,248.7 1276.1,252.5 1281.5,254.2 1288.3,257.1 1293.9,260.3 1299.0,263.1 1305.3,267.3 1310.6,271.6 1315.8,273.6 1321.4,275.6 1326.6,279.1 1332.4,281.2 1338.4,283.0 1344.8,287.5 1350.7,290.3 1356.5,292.9 1362.4,294.9" fill="none" stroke="#b5b5b5" stroke-width="0.80" opacity="0.72"/>
<polyline points="1128.7,314.4 1135.1,316.7 1140.8,320.2 1147.5,324.8 1153.3,327.4 1159.6,332.7 1166.1,336.2 1172.3,340.0 1178.5,342.8 1184.9,347.0 1190.7,351.4 1197.4,354.8 1202.6,357.9 1209.0,360.1" fill="none" stroke="#8e8e8e" stroke-width="0.54" opacity="0.68"/>
<polyline points="1262.2,246.0 1268.9,248.6 1274.3,251.4 1279.5,253.7 1284.9,257.6 1291.8,260.2 1297.4,263.9 1302.4,266.0 1308.6,269.3 1314.3,272.4 1319.3,275.0 1324.7,277.6 1329.8,282.0 1334.9,285.2 1340.2,287.6 1346.7,292.5 1353.7,295.4 1359.7,298.5" fill="none" stroke="#9a9a9a" stroke-width="0.50" opacity="0.81"/>
<polyline points="1221.0,204.9 1227.3,207.4 1232.7,209.2 1239.7,210.9 1244.7,213.4 1251.0,215.4 1257.0,219.6 1262.4,221.9 1268.3,226.3 1274.8,230.5 1280.6,233.0 1286.8,234.6 1292.8,238.7 1299.4,241.9 1306.1,246.0 1311.8,249.5 1317.2,252.8 1324.0,256.7 1329.8,261.0 1335.9,262.5 1342.3,264.9 1349.2,267.3 1355.4,269.1 1360.5,272.9 1366.9,276.5 1372.0,279.4 1377.3,282.5 1382.7,284.0 1389.6,286.0 1394.7,287.9 1401.4,289.5 1408.0,293.2" fill="none" stroke="#b0aaa0" stroke-width="0.65" opacity="0.68"/>
<polyline points="1239.7,210.9 1244.6,215.1 1250.4,218.2 1254.7,219.6" fill="none" stroke="#b0aaa0" stroke-width="0.52" opacity="0.55"/>
<polyline points="1171.7,241.7 1178.6,244.0 1184.9,247.5 1190.6,249.6 1196.7,252.1 1201.9,254.1 1207.0,258.4 1212.4,262.8 1218.6,267.3 1224.5,269.6 1229.7,273.0 1236.1,276.7 1242.9,278.4 1249.2,282.1 1256.1,284.4 1262.9,285.9 1269.1,288.4 1275.2,290.4 1280.9,293.0 1286.9,295.7 1292.3,297.7 1298.2,302.4 1304.9,304.3 1311.2,306.2" fill="none" stroke="#b5b5b5" stroke-width="0.51" opacity="0.84"/>
<polyline points="1179.0,312.1 1184.7,315.9 1189.7,317.9 1195.8,321.1 1201.4,323.6 1207.4,325.6 1212.5,328.9 1217.9,333.5 1223.2,335.8 1229.6,339.3 1235.0,341.6 1241.7,344.1 1247.9,348.3 1253.3,352.6 1259.3,356.7 1264.3,359.9 1270.7,365.0 1277.2,369.4 1282.7,373.0 1288.1,376.5 1294.8,381.6 1301.2,384.4 1306.4,387.5 1312.1,390.8 1317.5,395.5 1323.2,399.6 1328.6,402.4 1334.0,405.6" fill="none" stroke="#b5b5b5" stroke-width="0.69" opacity="0.76"/>
<polyline points="1234.0,248.2 1240.7,252.3 1246.9,257.4 1253.8,259.8 1260.7,262.3 1266.8,266.2 1273.8,269.2 1278.9,274.5 1284.8,278.2 1290.6,281.3 1295.7,285.3 1301.1,289.2 1308.1,294.6 1313.7,297.9 1319.0,302.1 1324.3,304.7 1331.2,308.8 1337.9,311.7 1343.3,315.8 1349.7,318.6" fill="none" stroke="#c6bfb2" stroke-width="0.71" opacity="0.78"/>
<polyline points="1273.8,269.2 1279.0,271.6 1283.7,273.6 1288.4,274.7 1293.5,277.0 1298.0,280.1 1303.6,283.7" fill="none" stroke="#c6bfb2" stroke-width="0.57" opacity="0.63"/>
<polyline points="1241.9,300.0 1247.2,304.1 1253.1,306.7 1258.3,310.0 1263.4,313.8 1270.1,316.5 1276.2,320.7 1281.9,322.8 1287.0,325.4 1294.0,329.7 1299.4,334.4 1304.4,337.8 1309.7,340.8 1316.0,342.6 1321.4,346.3 1327.3,348.8 1333.0,353.1 1339.6,357.1" fill="none" stroke="#b0aaa0" stroke-width="0.86" opacity="0.71"/>
<polyline points="1103.9,284.2 1109.6,286.5 1115.5,290.6 1121.1,294.6 1126.1,297.5 1132.1,301.3 1138.5,304.2 1144.0,308.7 1149.6,311.3 1155.8,314.6 1162.0,319.9 1169.0,324.6 1175.9,329.3 1181.6,334.4 1186.9,337.3 1192.9,339.8 1199.1,343.7 1204.5,348.3 1209.7,352.0 1215.2,357.2 1220.5,360.6 1226.9,363.7 1233.6,366.2 1238.8,368.4 1244.9,372.1 1250.9,375.8 1257.7,378.7 1263.0,381.6 1269.7,386.4 1274.9,388.6 1281.9,393.8 1287.4,397.7" fill="none" stroke="#9a9a9a" stroke-width="0.57" opacity="0.92"/>
<polyline points="1155.8,314.6 1160.6,318.3 1166.3,323.1 1171.2,327.1 1177.1,330.2" fill="none" stroke="#9a9a9a" stroke-width="0.45" opacity="0.73"/>
<polyline points="1103.8,269.1 1110.4,273.3 1115.9,276.6 1121.1,278.4 1127.1,281.9 1132.7,284.4 1139.6,286.9 1145.6,290.8 1151.6,292.9 1156.7,296.9 1162.5,298.8 1168.6,301.7 1174.1,305.7 1179.9,308.9 1185.7,313.6 1190.8,316.1 1197.4,319.6 1203.3,323.0 1209.2,327.8 1215.8,331.3 1222.1,333.4 1227.2,337.2 1234.2,339.2 1239.5,343.3 1244.6,345.0 1251.5,348.0 1257.2,350.8 1263.9,355.4 1269.7,359.7 1275.1,364.0 1280.8,368.4 1286.1,372.0 1291.2,375.7" fill="none" stroke="#c2c2c2" stroke-width="0.72" opacity="0.79"/>
<polyline points="1151.6,292.9 1156.3,294.3 1161.8,298.8 1167.3,300.7 1172.5,301.8 1176.9,303.9 1182.1,307.2" fill="none" stroke="#c2c2c2" stroke-width="0.58" opacity="0.63"/>
<polyline points="1131.8,218.6 1138.5,222.1 1144.4,227.1 1149.5,231.4 1154.7,236.2 1161.1,238.8 1166.1,244.1 1171.8,248.2 1177.9,251.7 1183.1,256.4 1188.8,260.0 1195.4,265.3 1201.0,268.7 1207.5,272.4 1214.3,275.9 1219.4,279.1 1226.2,283.3 1233.2,288.2 1239.5,291.1 1245.3,293.4 1251.0,296.4 1257.9,299.2 1263.6,301.6" fill="none" stroke="#a8a8a8" stroke-width="0.57" opacity="0.70"/>
</g>
<rect x="738.20" y="257.80" width="322.10" height="78.80" fill="none" stroke="#e31e24" stroke-width="2" />
<line x1="899.00" y1="257.80" x2="899.00" y2="336.60" stroke="#e31e24" stroke-width="2" />
<rect x="811.00" y="333.00" width="71.80" height="3.60" fill="#f2f2f2" stroke="#8a8a8a" stroke-width="0.8" />
<rect x="741.00" y="311.00" width="29.00" height="17.60" fill="#a8a590" stroke="#5a5850" stroke-width="0.8" />
<circle cx="748.54" cy="319.80" r="5.60" fill="none" stroke="#222" stroke-width="0.9"/>
<circle cx="762.46" cy="319.80" r="5.60" fill="none" stroke="#222" stroke-width="0.9"/>
<line x1="743.54" y1="324.80" x2="753.54" y2="314.80" stroke="#222" stroke-width="0.9" />
<rect x="978.90" y="310.70" width="29.50" height="18.00" fill="#a8a590" stroke="#5a5850" stroke-width="0.8" />
<circle cx="986.57" cy="319.70" r="5.60" fill="none" stroke="#222" stroke-width="0.9"/>
<circle cx="1000.73" cy="319.70" r="5.60" fill="none" stroke="#222" stroke-width="0.9"/>
<line x1="995.73" y1="324.70" x2="1005.73" y2="314.70" stroke="#222" stroke-width="0.9" />
<line x1="747.80" y1="296.50" x2="1063.00" y2="296.50" stroke="#7a7a7a" stroke-width="1" />
<line x1="747.50" y1="296.80" x2="747.50" y2="320.00" stroke="#7a7a7a" stroke-width="1" />
<line x1="1056.00" y1="301.80" x2="1066.00" y2="291.80" stroke="#555" stroke-width="1" />
<line x1="1000.50" y1="320.50" x2="1063.00" y2="320.50" stroke="#7a7a7a" stroke-width="1" />
<line x1="1056.00" y1="325.60" x2="1066.00" y2="315.60" stroke="#555" stroke-width="1" />
<text x="884.28" y="293.40" font-size="14.5" fill="#231f20" textLength="31.94" lengthAdjust="spacingAndGlyphs">2300</text>
<text x="1016.71" y="317.30" font-size="14.5" fill="#231f20" textLength="23.80" lengthAdjust="spacingAndGlyphs">450</text>
<rect x="732.20" y="336.60" width="329.80" height="9.40" fill="#4c4742" stroke="none" stroke-width="1" />
<rect x="652.60" y="346.50" width="409.00" height="97.80" fill="#ffffff" stroke="none" stroke-width="1" />
<rect x="987.00" y="346.00" width="74.60" height="99.40" fill="#dcdcdc" stroke="#4a4542" stroke-width="2" />
<line x1="653.00" y1="346.00" x2="653.00" y2="444.40" stroke="#4a4542" stroke-width="2" />
<line x1="732.00" y1="346.00" x2="732.00" y2="444.40" stroke="#4a4542" stroke-width="2" />
<line x1="791.00" y1="346.00" x2="791.00" y2="444.40" stroke="#4a4542" stroke-width="2" />
<line x1="899.00" y1="346.00" x2="899.00" y2="444.40" stroke="#4a4542" stroke-width="2" />
<line x1="981.00" y1="346.00" x2="981.00" y2="444.40" stroke="#4a4542" stroke-width="2" />
<line x1="986.00" y1="346.00" x2="986.00" y2="444.40" stroke="#4a4542" stroke-width="2" />
<line x1="652.60" y1="444.00" x2="986.40" y2="444.00" stroke="#4a4542" stroke-width="2" />
<line x1="652.60" y1="347.00" x2="731.80" y2="347.00" stroke="#4a4542" stroke-width="1.5" />
<line x1="791.30" y1="368.00" x2="899.00" y2="368.00" stroke="#4a4542" stroke-width="2" />
<line x1="791.30" y1="391.00" x2="899.00" y2="391.00" stroke="#4a4542" stroke-width="2" />
<rect x="668.40" y="352.50" width="43.20" height="3.00" fill="#a9a592" stroke="#6b6757" stroke-width="0.8" />
<rect x="738.80" y="351.60" width="44.40" height="2.80" fill="#a9a592" stroke="#6b6757" stroke-width="0.8" />
<rect x="825.00" y="351.60" width="44.50" height="2.80" fill="#a9a592" stroke="#6b6757" stroke-width="0.8" />
<rect x="825.00" y="374.70" width="44.50" height="2.80" fill="#a9a592" stroke="#6b6757" stroke-width="0.8" />
<rect x="825.00" y="397.50" width="44.50" height="3.00" fill="#a9a592" stroke="#6b6757" stroke-width="0.8" />
<rect x="916.40" y="351.60" width="43.60" height="2.90" fill="#a9a592" stroke="#6b6757" stroke-width="0.8" />
<line x1="761.50" y1="367.50" x2="1062.00" y2="367.50" stroke="#6a6a6a" stroke-width="1" />
<line x1="756.50" y1="372.60" x2="766.50" y2="362.60" stroke="#555" stroke-width="1" />
<line x1="761.50" y1="367.60" x2="761.50" y2="530.00" stroke="#6a6a6a" stroke-width="1" />
<line x1="1001.50" y1="320.60" x2="1001.50" y2="459.00" stroke="#6a6a6a" stroke-width="1" />
<line x1="847.50" y1="100.00" x2="847.50" y2="507.20" stroke="#7a7a7a" stroke-width="1" />
<circle cx="847.60" cy="367.60" r="6.00" fill="#e31e24" stroke="#222" stroke-width="0.6"/>
<line x1="843.00" y1="372.00" x2="852.00" y2="363.00" stroke="#222" stroke-width="0.8" />
<circle cx="700.70" cy="365.90" r="4.60" fill="#f5e600" stroke="#222" stroke-width="1"/>
<polyline points="700.00,370.50 689.50,405.00 656.80,405.00" fill="none" stroke="#333" stroke-width="0.9" />
<text x="665.99" y="399.60" font-size="24" fill="#e31e24" textLength="31.68" lengthAdjust="spacingAndGlyphs">газ</text>
<text x="0" y="0" transform="translate(775.50,416.08) rotate(-90)" font-size="14.5" fill="#231f20" textLength="22.78" lengthAdjust="spacingAndGlyphs">700</text>
<text x="0" y="0" transform="translate(863.00,414.73) rotate(-90)" font-size="14.5" fill="#231f20" textLength="24.25" lengthAdjust="spacingAndGlyphs">700</text>
<text x="0" y="0" transform="translate(1015.20,411.70) rotate(-90)" font-size="14.5" fill="#231f20" textLength="30.61" lengthAdjust="spacingAndGlyphs">1100</text>
<rect x="652.60" y="444.30" width="333.80" height="14.10" fill="#737373" stroke="#555" stroke-width="1" />
<rect x="987.00" y="446.40" width="75.40" height="12.60" fill="#ffffff" stroke="none" stroke-width="1" />
<text x="673.85" y="458.00" font-size="18.5" fill="#231f20" textLength="31.74" lengthAdjust="spacingAndGlyphs">600</text>
<text x="744.63" y="458.00" font-size="18.5" fill="#231f20" textLength="31.25" lengthAdjust="spacingAndGlyphs">450</text>
<text x="829.05" y="458.00" font-size="18.5" fill="#231f20" textLength="31.12" lengthAdjust="spacingAndGlyphs">800</text>
<text x="926.04" y="458.00" font-size="18.5" fill="#231f20" textLength="32.06" lengthAdjust="spacingAndGlyphs">600</text>
<text x="1011.85" y="460.70" font-size="19.5" fill="#231f20" textLength="31.63" lengthAdjust="spacingAndGlyphs">600</text>
<line x1="712.50" y1="396.00" x2="712.50" y2="458.00" stroke="#b5b5b5" stroke-width="1" />
<line x1="707.80" y1="462.00" x2="717.80" y2="452.00" stroke="#555" stroke-width="1" />
<line x1="756.50" y1="462.00" x2="766.50" y2="452.00" stroke="#555" stroke-width="1" />
<line x1="842.40" y1="463.00" x2="852.40" y2="453.00" stroke="#555" stroke-width="1" />
<line x1="997.30" y1="465.10" x2="1007.70" y2="454.70" stroke="#555" stroke-width="1" />
<line x1="652.50" y1="444.00" x2="652.50" y2="552.00" stroke="#6a6a6a" stroke-width="1" />
<line x1="1064.50" y1="476.00" x2="1064.50" y2="552.00" stroke="#6a6a6a" stroke-width="1" />
<line x1="847.40" y1="507.50" x2="1065.00" y2="507.50" stroke="#6a6a6a" stroke-width="1" />
<line x1="841.40" y1="513.20" x2="853.40" y2="501.20" stroke="#555" stroke-width="1" />
<line x1="1058.50" y1="513.20" x2="1070.50" y2="501.20" stroke="#555" stroke-width="1" />
<line x1="761.50" y1="527.50" x2="1065.00" y2="527.50" stroke="#6a6a6a" stroke-width="1" />
<line x1="755.50" y1="533.40" x2="767.50" y2="521.40" stroke="#555" stroke-width="1" />
<line x1="1058.50" y1="533.40" x2="1070.50" y2="521.40" stroke="#555" stroke-width="1" />
<line x1="652.70" y1="547.50" x2="1065.00" y2="547.50" stroke="#6a6a6a" stroke-width="1" />
<line x1="646.70" y1="553.60" x2="658.70" y2="541.60" stroke="#555" stroke-width="1" />
<line x1="1058.50" y1="553.60" x2="1070.50" y2="541.60" stroke="#555" stroke-width="1" />
<text x="945.64" y="502.90" font-size="14.5" fill="#231f20" textLength="30.56" lengthAdjust="spacingAndGlyphs">1600</text>
<text x="884.09" y="524.70" font-size="14.5" fill="#231f20" textLength="31.42" lengthAdjust="spacingAndGlyphs">2250</text>
<text x="844.04" y="545.70" font-size="18.5" fill="#231f20" textLength="41.43" lengthAdjust="spacingAndGlyphs">3050</text>
<rect x="1085.80" y="94.20" width="40.50" height="163.30" fill="#c0c0c0" stroke="#4a4542" stroke-width="2" />
<rect x="1126.30" y="94.20" width="178.20" height="163.30" fill="#ffffff" stroke="#4a4542" stroke-width="2" />
<line x1="1198.00" y1="94.20" x2="1198.00" y2="257.50" stroke="#4a4542" stroke-width="2" />
<line x1="1126.30" y1="160.00" x2="1304.50" y2="160.00" stroke="#4a4542" stroke-width="2" />
<line x1="1197.50" y1="208.00" x2="1304.50" y2="208.00" stroke="#4a4542" stroke-width="2" />
<rect x="1304.50" y="94.20" width="80.30" height="347.60" fill="#ffffff" stroke="#4a4542" stroke-width="2" />
<line x1="1304.50" y1="160.00" x2="1384.80" y2="160.00" stroke="#4a4542" stroke-width="2.2" />
<line x1="1304.50" y1="334.00" x2="1384.80" y2="334.00" stroke="#4a4542" stroke-width="2.2" />
<rect x="1139.00" y="244.00" width="45.00" height="3.80" fill="#a9a592" stroke="#6b6757" stroke-width="0.8" />
<rect x="1225.00" y="245.80" width="52.80" height="3.00" fill="#a9a592" stroke="#6b6757" stroke-width="0.8" />
<rect x="1311.00" y="239.00" width="4.00" height="78.30" fill="#a9a592" stroke="#6b6757" stroke-width="0.8" />
<rect x="1311.00" y="344.00" width="4.00" height="53.40" fill="#a9a592" stroke="#6b6757" stroke-width="0.8" />
<text x="1094.27" y="116.70" font-size="14.5" fill="#231f20" textLength="23.74" lengthAdjust="spacingAndGlyphs">350</text>
<text x="1155.42" y="115.80" font-size="14.5" fill="#231f20" textLength="24.10" lengthAdjust="spacingAndGlyphs">500</text>
<text x="1241.13" y="117.50" font-size="14.5" fill="#231f20" textLength="23.89" lengthAdjust="spacingAndGlyphs">800</text>
<text x="1330.27" y="118.30" font-size="14.5" fill="#231f20" textLength="24.25" lengthAdjust="spacingAndGlyphs">600</text>
<polyline points="1125.40,252.50 1083.50,252.50 1083.50,339.00" fill="none" stroke="#e31e24" stroke-width="2" />
<line x1="1244.00" y1="258.00" x2="1244.00" y2="334.50" stroke="#e31e24" stroke-width="2" />
<rect x="1086.00" y="337.20" width="218.50" height="9.20" fill="#4c4742" stroke="none" stroke-width="1" />
<rect x="1164.00" y="334.30" width="96.70" height="2.90" fill="#f0f0f0" stroke="#888" stroke-width="0.8" />
<rect x="1172.30" y="294.30" width="7.40" height="39.70" fill="#bdbdbd" stroke="#7a7a7a" stroke-width="0.8" rx="1.5"/>
<rect x="1173.00" y="308.00" width="6.00" height="1.50" fill="#555" stroke="none" stroke-width="1" />
<rect x="1178.50" y="326.00" width="7.50" height="6.00" fill="#bdbdbd" stroke="#7a7a7a" stroke-width="0.6" />
<rect x="1185.00" y="317.00" width="3.50" height="15.00" fill="#bdbdbd" stroke="#7a7a7a" stroke-width="0.6" />
<rect x="1105.70" y="346.40" width="49.10" height="95.20" fill="#dcdcdc" stroke="#4a4542" stroke-width="2" />
<rect x="1154.80" y="346.40" width="149.70" height="95.20" fill="#ffffff" stroke="#4a4542" stroke-width="2" />
<line x1="1163.00" y1="346.40" x2="1163.00" y2="441.60" stroke="#4a4542" stroke-width="2" />
<line x1="1223.00" y1="346.40" x2="1223.00" y2="441.60" stroke="#4a4542" stroke-width="2" />
<rect x="1167.70" y="346.40" width="48.40" height="28.40" fill="none" stroke="#111" stroke-width="1.2" stroke-dasharray="2.2,3.2"/>
<rect x="1168.60" y="354.00" width="43.80" height="3.00" fill="#a9a592" stroke="#6b6757" stroke-width="0.8" />
<rect x="1239.50" y="354.00" width="44.20" height="3.50" fill="#a9a592" stroke="#6b6757" stroke-width="0.8" />
<circle cx="1212.40" cy="392.50" r="5.60" fill="#e31e24" stroke="#222" stroke-width="0.6"/>
<circle cx="1212.40" cy="403.80" r="5.60" fill="#e31e24" stroke="#222" stroke-width="0.6"/>
<circle cx="1212.40" cy="414.80" r="5.60" fill="#e31e24" stroke="#222" stroke-width="0.6"/>
<line x1="1208.00" y1="397.00" x2="1217.00" y2="388.00" stroke="#222" stroke-width="0.8" />
<line x1="1212.50" y1="414.00" x2="1212.50" y2="510.00" stroke="#6a6a6a" stroke-width="1" />
<rect x="1154.80" y="441.60" width="229.60" height="17.20" fill="#808080" stroke="#555" stroke-width="1.2" />
<rect x="1315.00" y="445.80" width="58.00" height="7.80" fill="#d8d8d8" stroke="#999" stroke-width="0.6" rx="1.5"/>
<line x1="1317.00" y1="448.50" x2="1371.00" y2="448.50" stroke="#888" stroke-width="0.6" />
<line x1="1317.00" y1="451.50" x2="1371.00" y2="451.50" stroke="#888" stroke-width="0.6" />
<text x="1097.74" y="456.40" font-size="18.5" fill="#231f20" textLength="31.95" lengthAdjust="spacingAndGlyphs">600</text>
<text x="1178.93" y="457.50" font-size="18.5" fill="#231f20" textLength="30.73" lengthAdjust="spacingAndGlyphs">450</text>
<text x="1249.64" y="457.00" font-size="18.5" fill="#231f20" textLength="32.06" lengthAdjust="spacingAndGlyphs">600</text>
<text x="1327.05" y="456.00" font-size="18.5" fill="#231f20" textLength="31.63" lengthAdjust="spacingAndGlyphs">600</text>
<line x1="1207.40" y1="462.00" x2="1217.40" y2="452.00" stroke="#555" stroke-width="1" />
<text x="0" y="0" transform="translate(1224.80,445.66) rotate(-90)" font-size="12.5" fill="#231f20" textLength="22.14" lengthAdjust="spacingAndGlyphs">600</text>
<line x1="1085.50" y1="476.00" x2="1085.50" y2="552.00" stroke="#6a6a6a" stroke-width="1" />
<line x1="1384.50" y1="476.00" x2="1384.50" y2="552.00" stroke="#6a6a6a" stroke-width="1" />
<line x1="1085.00" y1="506.50" x2="1212.40" y2="506.50" stroke="#6a6a6a" stroke-width="1" />
<line x1="1079.00" y1="512.00" x2="1091.00" y2="500.00" stroke="#555" stroke-width="1" />
<line x1="1206.40" y1="512.00" x2="1218.40" y2="500.00" stroke="#555" stroke-width="1" />
<line x1="1085.00" y1="547.50" x2="1384.60" y2="547.50" stroke="#6a6a6a" stroke-width="1" />
<line x1="1079.00" y1="553.70" x2="1091.00" y2="541.70" stroke="#555" stroke-width="1" />
<line x1="1378.60" y1="553.70" x2="1390.60" y2="541.70" stroke="#555" stroke-width="1" />
<text x="1142.43" y="502.00" font-size="14.5" fill="#231f20" textLength="23.89" lengthAdjust="spacingAndGlyphs">900</text>
<text x="1219.54" y="543.80" font-size="18.5" fill="#231f20" textLength="42.55" lengthAdjust="spacingAndGlyphs">2250</text>
<text x="1252.64" y="406.60" font-size="27.7" fill="#231f20" textLength="31.57" lengthAdjust="spacingAndGlyphs">п/м</text>
<text x="1335.80" y="298.00" font-size="26" fill="#231f20" textLength="24.95" lengthAdjust="spacingAndGlyphs">х-к</text>
<rect x="425.70" y="739.00" width="75.40" height="111.30" fill="#6e6e6e" stroke="none" stroke-width="1" />
<rect x="501.00" y="739.00" width="41.00" height="22.80" fill="#6e6e6e" stroke="none" stroke-width="1" />
<rect x="634.00" y="738.70" width="452.00" height="22.90" fill="#6e6e6e" stroke="none" stroke-width="1" />
<rect x="1062.00" y="737.30" width="23.30" height="343.10" fill="#6e6e6e" stroke="none" stroke-width="1" />
<rect x="542.00" y="740.30" width="92.00" height="22.00" fill="#ffffff" stroke="none" stroke-width="1" />
<line x1="542.00" y1="741.50" x2="633.00" y2="741.50" stroke="#7c7c7c" stroke-width="1.1" />
<line x1="542.00" y1="744.50" x2="633.00" y2="744.50" stroke="#7c7c7c" stroke-width="1.1" />
<line x1="542.00" y1="757.50" x2="633.00" y2="757.50" stroke="#7c7c7c" stroke-width="1.1" />
<line x1="542.00" y1="762.50" x2="633.00" y2="762.50" stroke="#7c7c7c" stroke-width="1.1" />
<line x1="530.30" y1="763.50" x2="639.00" y2="763.50" stroke="#7c7c7c" stroke-width="1.2" />
<line x1="530.30" y1="741.50" x2="542.00" y2="741.50" stroke="#9a9a9a" stroke-width="1.1" />
<line x1="530.50" y1="741.20" x2="530.50" y2="744.00" stroke="#9a9a9a" stroke-width="1.1" />
<line x1="530.30" y1="744.50" x2="542.00" y2="744.50" stroke="#9a9a9a" stroke-width="1.1" />
<line x1="536.50" y1="744.00" x2="536.50" y2="762.00" stroke="#9a9a9a" stroke-width="1.1" />
<line x1="627.50" y1="741.20" x2="627.50" y2="762.30" stroke="#7c7c7c" stroke-width="1.1" />
<line x1="632.50" y1="741.20" x2="632.50" y2="762.30" stroke="#7c7c7c" stroke-width="1.1" />
<line x1="633.00" y1="741.50" x2="638.60" y2="741.50" stroke="#9a9a9a" stroke-width="1.1" />
<line x1="638.50" y1="741.20" x2="638.50" y2="744.00" stroke="#9a9a9a" stroke-width="1.1" />
<line x1="633.00" y1="744.50" x2="638.60" y2="744.50" stroke="#9a9a9a" stroke-width="1.1" />
<rect x="542.00" y="763.50" width="5.20" height="85.50" fill="#ffffff" stroke="#7a7a7a" stroke-width="1.2" />
<path d="M 541.6 849 A 86 86 0 0 0 627.6 763.5" fill="none" stroke="#7a7a7a" stroke-width="1.2"/>
<rect x="425.70" y="850.30" width="74.10" height="184.70" fill="none" stroke="#6a6a6a" stroke-width="1.5" />
<line x1="448.00" y1="850.30" x2="448.00" y2="1035.00" stroke="#6a6a6a" stroke-width="1.5" />
<line x1="465.00" y1="850.30" x2="465.00" y2="1035.00" stroke="#6a6a6a" stroke-width="1.5" />
<line x1="425.70" y1="942.00" x2="499.80" y2="942.00" stroke="#6a6a6a" stroke-width="1.5" />
<line x1="465.70" y1="851.60" x2="528.90" y2="919.40" stroke="#333" stroke-width="1.3" />
<line x1="502.00" y1="656.50" x2="1060.50" y2="656.50" stroke="#6a6a6a" stroke-width="1" />
<line x1="496.00" y1="662.80" x2="508.00" y2="650.80" stroke="#555" stroke-width="1" />
<line x1="502.00" y1="692.50" x2="1060.00" y2="692.50" stroke="#6a6a6a" stroke-width="1" />
<line x1="496.00" y1="698.20" x2="508.00" y2="686.20" stroke="#555" stroke-width="1" />
<line x1="628.00" y1="698.20" x2="640.00" y2="686.20" stroke="#555" stroke-width="1" />
<line x1="1054.00" y1="698.20" x2="1066.00" y2="686.20" stroke="#555" stroke-width="1" />
<line x1="653.80" y1="714.50" x2="1057.50" y2="714.50" stroke="#6a6a6a" stroke-width="1" />
<line x1="647.80" y1="720.50" x2="659.80" y2="708.50" stroke="#555" stroke-width="1" />
<line x1="542.00" y1="714.50" x2="634.00" y2="714.50" stroke="#6a6a6a" stroke-width="1" />
<line x1="536.00" y1="720.50" x2="548.00" y2="708.50" stroke="#555" stroke-width="1" />
<line x1="628.00" y1="720.50" x2="640.00" y2="708.50" stroke="#555" stroke-width="1" />
<line x1="502.50" y1="656.80" x2="502.50" y2="739.00" stroke="#6a6a6a" stroke-width="1" />
<line x1="634.50" y1="692.20" x2="634.50" y2="740.00" stroke="#6a6a6a" stroke-width="1" />
<line x1="541.50" y1="714.50" x2="541.50" y2="750.60" stroke="#6a6a6a" stroke-width="1" />
<line x1="1060.50" y1="656.80" x2="1060.50" y2="738.70" stroke="#6a6a6a" stroke-width="1" />
<line x1="653.50" y1="700.00" x2="653.50" y2="781.50" stroke="#555" stroke-width="1" />
<text x="715.23" y="647.90" font-size="28" fill="#231f20" textLength="63.50" lengthAdjust="spacingAndGlyphs">4170</text>
<text x="549.17" y="690.80" font-size="28" fill="#231f20" textLength="47.15" lengthAdjust="spacingAndGlyphs">960</text>
<text x="776.15" y="687.20" font-size="28.5" fill="#231f20" textLength="62.77" lengthAdjust="spacingAndGlyphs">3210</text>
<text x="805.15" y="718.00" font-size="28.5" fill="#e31e24" textLength="62.87" lengthAdjust="spacingAndGlyphs">3050</text>
<text x="560.97" y="739.30" font-size="27" fill="#231f20" textLength="47.77" lengthAdjust="spacingAndGlyphs">703</text>
<text x="677.52" y="736.40" font-size="19.5" fill="#231f20" textLength="32.58" lengthAdjust="spacingAndGlyphs">600</text>
<text x="751.63" y="736.40" font-size="19.5" fill="#231f20" textLength="31.04" lengthAdjust="spacingAndGlyphs">450</text>
<text x="830.25" y="736.40" font-size="19.5" fill="#231f20" textLength="31.43" lengthAdjust="spacingAndGlyphs">800</text>
<text x="924.04" y="740.00" font-size="19.5" fill="#231f20" textLength="32.16" lengthAdjust="spacingAndGlyphs">600</text>
<text x="1001.03" y="736.40" font-size="19.5" fill="#231f20" textLength="32.37" lengthAdjust="spacingAndGlyphs">600</text>
<line x1="653.80" y1="747.50" x2="1060.00" y2="747.50" stroke="#3c3c3c" stroke-width="1" />
<line x1="648.80" y1="752.40" x2="658.80" y2="742.40" stroke="#3c3c3c" stroke-width="1" />
<line x1="730.20" y1="752.40" x2="740.20" y2="742.40" stroke="#3c3c3c" stroke-width="1" />
<line x1="785.80" y1="752.40" x2="795.80" y2="742.40" stroke="#3c3c3c" stroke-width="1" />
<line x1="893.00" y1="752.40" x2="903.00" y2="742.40" stroke="#3c3c3c" stroke-width="1" />
<line x1="974.60" y1="752.40" x2="984.60" y2="742.40" stroke="#3c3c3c" stroke-width="1" />
<line x1="1055.00" y1="752.40" x2="1065.00" y2="742.40" stroke="#3c3c3c" stroke-width="1" />
<polygon points="736.40,764.50 1057.60,764.50 1057.60,905.00 977.00,905.00 977.00,844.80 736.40,844.80" fill="#fff9c8" stroke="#66625a" stroke-width="1.5" />
<rect x="654.20" y="765.00" width="80.60" height="79.80" fill="#fff9c8" stroke="#66625a" stroke-width="1.6" />
<line x1="736.00" y1="764.50" x2="736.00" y2="844.80" stroke="#66625a" stroke-width="2" />
<line x1="791.50" y1="764.50" x2="791.50" y2="844.80" stroke="#b0ab90" stroke-width="1" />
<line x1="897.50" y1="764.50" x2="897.50" y2="844.80" stroke="#b0ab90" stroke-width="1" />
<rect x="977.00" y="791.50" width="80.00" height="52.00" fill="none" stroke="#a8a48a" stroke-width="1" />
<line x1="977.00" y1="843.50" x2="1057.60" y2="843.50" stroke="#66625a" stroke-width="1.2" />
<rect x="977.00" y="905.00" width="80.50" height="80.00" fill="#fff9c8" stroke="#66625a" stroke-width="1.5" />
<rect x="977.20" y="985.00" width="81.00" height="79.70" fill="#fff9c8" stroke="#333" stroke-width="2" />
<line x1="735.50" y1="747.40" x2="735.50" y2="783.00" stroke="#444" stroke-width="1" />
<line x1="898.50" y1="747.40" x2="898.50" y2="781.00" stroke="#444" stroke-width="1" />
<line x1="979.50" y1="747.40" x2="979.50" y2="784.70" stroke="#444" stroke-width="1" />
<rect x="803.20" y="770.30" width="79.50" height="67.40" fill="#dcdcdc" stroke="#555" stroke-width="1" />
<rect x="804.40" y="771.50" width="77.10" height="65.00" fill="none" stroke="#f4f4f4" stroke-width="1" />
<rect x="806.80" y="773.30" width="72.30" height="58.40" fill="none" stroke="#444" stroke-width="1.2" rx="1"/>
<circle cx="820.10" cy="784.20" r="9.20" fill="none" stroke="#444" stroke-width="1"/>
<circle cx="820.10" cy="784.20" r="7.20" fill="none" stroke="#f2f2f2" stroke-width="1.2"/>
<rect x="807.10" y="782.10" width="26.60" height="3.80" fill="#eeeeee" stroke="#555" stroke-width="0.7" />
<rect x="818.00" y="776.80" width="4.40" height="18.60" fill="#eeeeee" stroke="#555" stroke-width="0.7" />
<circle cx="865.60" cy="784.20" r="9.20" fill="none" stroke="#444" stroke-width="1"/>
<circle cx="865.60" cy="784.20" r="7.20" fill="none" stroke="#f2f2f2" stroke-width="1.2"/>
<rect x="852.30" y="782.10" width="26.30" height="3.80" fill="#eeeeee" stroke="#555" stroke-width="0.7" />
<rect x="863.50" y="776.50" width="4.10" height="18.30" fill="#eeeeee" stroke="#555" stroke-width="0.7" />
<circle cx="820.10" cy="820.80" r="9.20" fill="none" stroke="#444" stroke-width="1"/>
<circle cx="820.10" cy="820.80" r="7.20" fill="none" stroke="#f2f2f2" stroke-width="1.2"/>
<rect x="807.10" y="819.10" width="26.60" height="3.70" fill="#eeeeee" stroke="#555" stroke-width="0.7" />
<rect x="818.00" y="810.20" width="4.40" height="21.20" fill="#eeeeee" stroke="#555" stroke-width="0.7" />
<circle cx="865.60" cy="820.80" r="9.20" fill="none" stroke="#444" stroke-width="1"/>
<circle cx="865.60" cy="820.80" r="7.20" fill="none" stroke="#f2f2f2" stroke-width="1.2"/>
<rect x="852.30" y="819.10" width="26.30" height="3.70" fill="#eeeeee" stroke="#555" stroke-width="0.7" />
<rect x="863.50" y="809.60" width="4.10" height="21.80" fill="#eeeeee" stroke="#555" stroke-width="0.7" />
<circle cx="945.60" cy="776.00" r="11.50" fill="#74655e" stroke="#111" stroke-width="1.5"/>
<circle cx="999.60" cy="772.00" r="7.00" fill="#74655e" stroke="#111" stroke-width="1.5"/>
<rect x="987.60" y="848.40" width="59.80" height="51.90" fill="#dcdcdc" stroke="#666" stroke-width="1" rx="5"/>
<path d="M 1006 868 C 1000 869 999 878 1004 881 C 1008 883 1013 881 1012.5 876 C 1012 871 1011 867.5 1006 868 Z" fill="none" stroke="#666" stroke-width="0.9"/>
<text x="675.90" y="800.40" font-size="28" fill="#231f20" textLength="44.38" lengthAdjust="spacingAndGlyphs">дух</text>
<text x="675.88" y="831.30" font-size="28" fill="#231f20" textLength="42.80" lengthAdjust="spacingAndGlyphs">м/в</text>
<text x="999.09" y="957.80" font-size="27" fill="#231f20" textLength="30.48" lengthAdjust="spacingAndGlyphs">п/м</text>
<text x="0" y="0" transform="translate(1026.70,1038.08) rotate(-90)" font-size="27" fill="#231f20" textLength="35.53" lengthAdjust="spacingAndGlyphs">х-к</text>
<line x1="1111.50" y1="761.30" x2="1111.50" y2="1066.00" stroke="#6a6a6a" stroke-width="1" />
<line x1="1131.50" y1="762.00" x2="1131.50" y2="1064.70" stroke="#6a6a6a" stroke-width="1" />
<line x1="1047.00" y1="761.50" x2="1131.50" y2="761.50" stroke="#6a6a6a" stroke-width="1" />
<line x1="977.00" y1="843.50" x2="1111.20" y2="843.50" stroke="#6a6a6a" stroke-width="1" />
<line x1="1050.00" y1="905.50" x2="1111.20" y2="905.50" stroke="#6a6a6a" stroke-width="1" />
<line x1="1058.00" y1="985.50" x2="1111.20" y2="985.50" stroke="#6a6a6a" stroke-width="1" />
<line x1="1058.00" y1="1064.50" x2="1131.50" y2="1064.50" stroke="#6a6a6a" stroke-width="1" />
<line x1="1105.20" y1="767.50" x2="1117.20" y2="755.50" stroke="#555" stroke-width="1" />
<line x1="1105.20" y1="849.00" x2="1117.20" y2="837.00" stroke="#555" stroke-width="1" />
<line x1="1105.20" y1="911.00" x2="1117.20" y2="899.00" stroke="#555" stroke-width="1" />
<line x1="1105.20" y1="991.00" x2="1117.20" y2="979.00" stroke="#555" stroke-width="1" />
<line x1="1105.20" y1="1070.50" x2="1117.20" y2="1058.50" stroke="#555" stroke-width="1" />
<text x="0" y="0" transform="translate(1108.50,814.73) rotate(-90)" font-size="19.5" fill="#231f20" textLength="31.11" lengthAdjust="spacingAndGlyphs">600</text>
<text x="0" y="0" transform="translate(1112.00,883.18) rotate(-90)" font-size="19.5" fill="#231f20" textLength="31.67" lengthAdjust="spacingAndGlyphs">450</text>
<text x="0" y="0" transform="translate(1113.40,948.98) rotate(-90)" font-size="19.5" fill="#231f20" textLength="32.69" lengthAdjust="spacingAndGlyphs">600</text>
<text x="0" y="0" transform="translate(1113.80,1033.55) rotate(-90)" font-size="19.5" fill="#231f20" textLength="31.74" lengthAdjust="spacingAndGlyphs">600</text>
<text x="0" y="0" transform="translate(1155.40,950.81) rotate(-90)" font-size="29" fill="#e31e24" textLength="62.83" lengthAdjust="spacingAndGlyphs">2250</text>
<line x1="1057.50" y1="1075.40" x2="1057.50" y2="1208.40" stroke="#888888" stroke-width="1.2" />
<line x1="1062.50" y1="1082.00" x2="1062.50" y2="1201.90" stroke="#888888" stroke-width="1.2" />
<line x1="1065.50" y1="1082.00" x2="1065.50" y2="1201.90" stroke="#888888" stroke-width="1.2" />
<line x1="1081.50" y1="1076.00" x2="1081.50" y2="1208.00" stroke="#888888" stroke-width="1.2" />
<line x1="1085.50" y1="1076.00" x2="1085.50" y2="1208.00" stroke="#888888" stroke-width="1.2" />
<line x1="1058.00" y1="1082.50" x2="1085.00" y2="1082.50" stroke="#888888" stroke-width="1.2" />
<line x1="1058.00" y1="1089.50" x2="1085.00" y2="1089.50" stroke="#888888" stroke-width="1.2" />
<line x1="1058.00" y1="1194.50" x2="1085.00" y2="1194.50" stroke="#888888" stroke-width="1.2" />
<line x1="1062.00" y1="1202.00" x2="1085.00" y2="1202.00" stroke="#888888" stroke-width="1.5" />
<line x1="955.00" y1="1089.50" x2="1058.00" y2="1089.50" stroke="#888888" stroke-width="1.2" />
<line x1="955.00" y1="1096.50" x2="1058.00" y2="1096.50" stroke="#888888" stroke-width="1.2" />
<line x1="955.50" y1="1089.00" x2="955.50" y2="1096.30" stroke="#888888" stroke-width="1.2" />
<path d="M 955 1096.3 A 103 98.4 0 0 0 1058 1194.7" fill="none" stroke="#7a7a7a" stroke-width="1.2"/>
<polyline points="617.70,985.50 669.40,1120.40 758.00,988.40" fill="none" stroke="#111" stroke-width="1.6" />
<polyline points="943.00,939.30 752.20,1028.30 946.90,1079.60" fill="none" stroke="#111" stroke-width="1.6" />
<text x="663.42" y="1046.20" font-size="58" fill="#231f20" textLength="28.88" lengthAdjust="spacingAndGlyphs">а</text>
<text x="842.75" y="1037.60" font-size="57" fill="#231f20" textLength="33.78" lengthAdjust="spacingAndGlyphs">б</text>
</svg></body></html>
